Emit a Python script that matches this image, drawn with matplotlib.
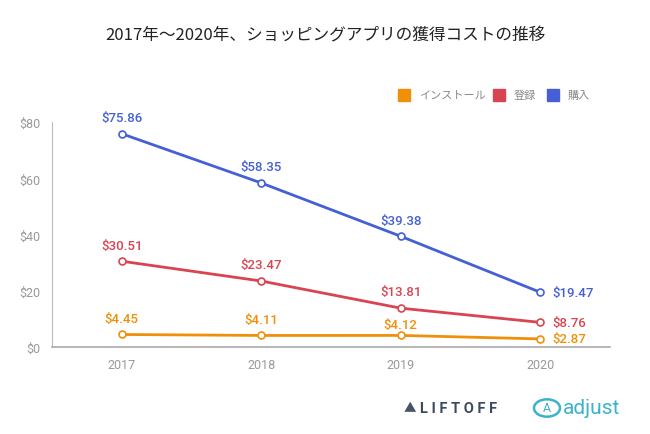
import matplotlib
matplotlib.use("Agg")
import matplotlib.pyplot as plt
from matplotlib.patches import Circle

years = ["2017", "2018", "2019", "2020"]
install = [4.45, 4.11, 4.12, 2.87]
register = [30.51, 23.47, 13.81, 8.76]
purchase = [75.86, 58.35, 39.38, 19.47]
series_names = ["インストール", "登録", "購入"]
y_ticks = [0, 20, 40, 60, 80]
y_tick_labels = ["$0", "$20", "$40", "$60", "$80"]

colors = ["#F0900A", "#D94452", "#4460D4"]
plt.rcParams['font.family'] = ['Noto Sans CJK JP', 'DejaVu Sans']

fig = plt.figure(figsize=(6.5, 4.35), dpi=100)
ax = fig.add_axes([0.08, 0.2, 0.8585, 0.517])

x = list(range(len(years)))
for si, (vals, c) in enumerate(zip([install, register, purchase], colors)):
    ax.plot(x, vals, color=c, lw=2, marker='o', ms=5, mfc='white', mec=c, mew=1.2,
            clip_on=False, zorder=3)
    for i, v in enumerate(vals):
        if i == len(vals) - 1:
            ax.annotate(f"${v:.2f}", (i, v), xytext=(9, 0), textcoords='offset points',
                        ha='left', va='center', color=c, fontsize=9.5, fontweight='medium',
                        family=['Roboto', 'DejaVu Sans'])
        else:
            dy = 3 if (si == 0 and i == 2) else 7
            ax.annotate(f"${v:.2f}", (i, v), xytext=(0, dy), textcoords='offset points',
                        ha='center', va='bottom', color=c, fontsize=9.5, fontweight='medium',
                        family=['Roboto', 'DejaVu Sans'])

ax.set_xlim(-0.5, 3.5)
ax.set_ylim(0, 80)
ax.set_xticks(x)
ax.set_xticklabels(years)
ax.set_yticks(y_ticks)
ax.set_yticklabels(y_tick_labels)
ax.tick_params(length=0, colors='#999999', labelsize=9, pad=8)
for lab in ax.get_xticklabels() + ax.get_yticklabels():
    lab.set_family(['Roboto', 'DejaVu Sans'])
for s in ['top', 'right']:
    ax.spines[s].set_visible(False)
ax.spines['left'].set_color('#BBBBBB')
ax.spines['bottom'].set_color('#AAAAAA')
ax.spines['bottom'].set_linewidth(1.2)

fig.text(0.5, 1 - 35 / 435, "2017年〜2020年、ショッピングアプリの獲得コストの推移",
         ha='center', va='center', fontsize=12, color='#222222')

# legend
leg_x = [404, 499, 553]
for lx, name, c in zip(leg_x, series_names, colors):
    fig.patches.append(plt.Rectangle(((lx - 6) / 650, 1 - 102 / 435), 12 / 650, 12 / 435,
                                     transform=fig.transFigure, color=c, figure=fig))
    fig.text((lx + 15) / 650, 1 - 96 / 435, name, ha='left', va='center',
             fontsize=8, color='#888888')

# logos
fig.text(410 / 650, 1 - 409 / 435, "▲", ha='center', va='center', fontsize=9, color='#44556A')
fig.text(420 / 650, 1 - 409 / 435, "L I F T O F F", ha='left', va='center', fontsize=10.5,
         color='#3C4A5E', fontweight='bold', family=['Roboto', 'DejaVu Sans'])
fig.patches.append(Circle((547 / 650, 1 - 409 / 435), 13 / 650, transform=fig.transFigure,
                          fill=False, ec='#3BB3C9', lw=1.8, figure=fig))
fig.text(547 / 650, 1 - 409 / 435, "A", ha='center', va='center', fontsize=9,
         color='#3BB3C9', family=['Roboto', 'DejaVu Sans'])
fig.text(563 / 650, 1 - 409 / 435, "adjust", ha='left', va='center', fontsize=15,
         color='#3BB3C9', family=['Roboto', 'DejaVu Sans'])

fig.savefig("out.png", dpi=100, facecolor='white')
